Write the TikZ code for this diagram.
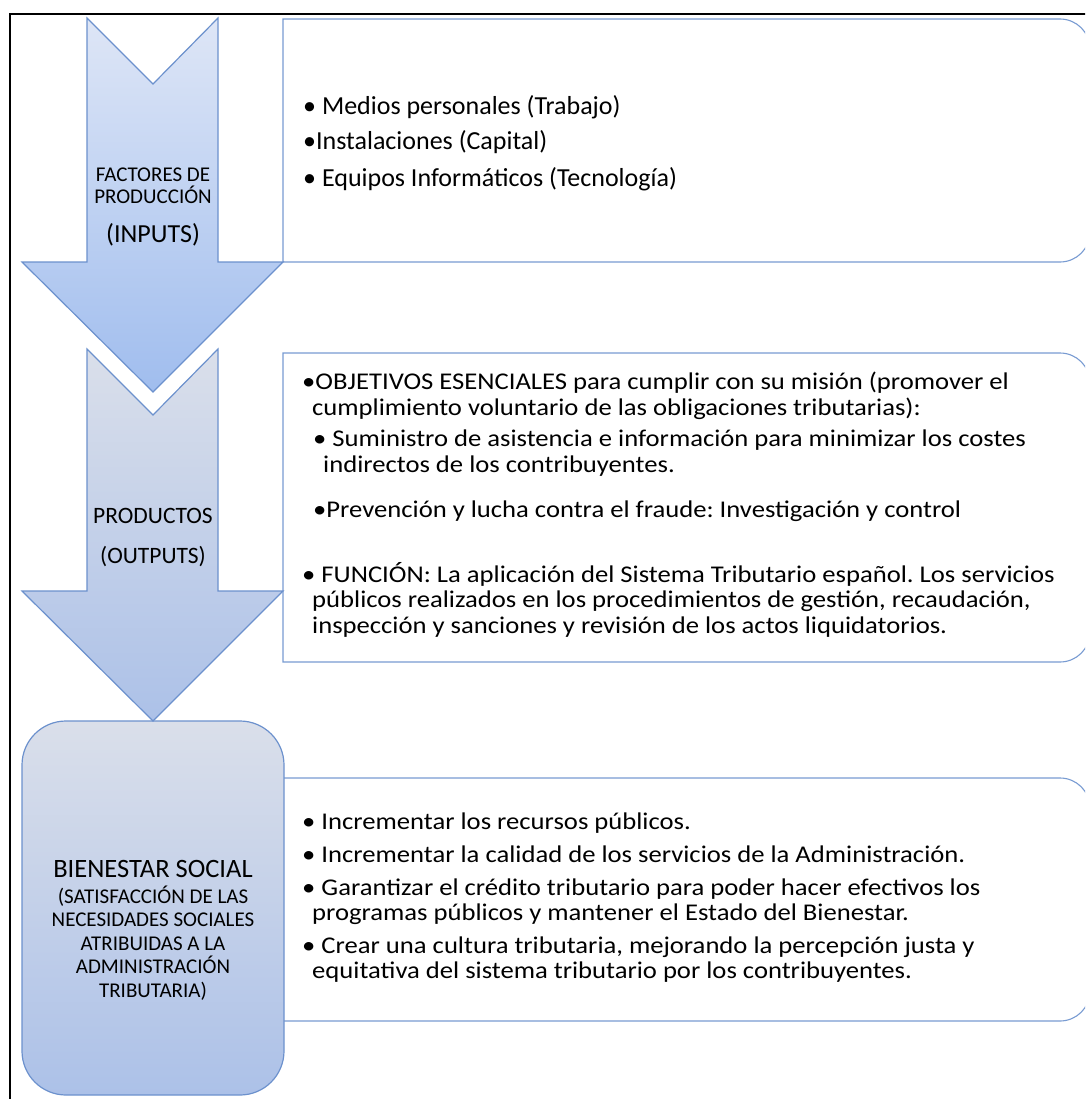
\documentclass[tikz,border=0pt]{standalone}
\usepackage{fontspec}
\setmainfont{Carlito}
\newfontfamily\widefont[FakeStretch=1.11]{Carlito}
\frenchspacing

\definecolor{edgeblue}{RGB}{108,145,205}
\definecolor{boxblue}{RGB}{120,155,210}
\definecolor{arrowtop}{RGB}{222,230,246}
\definecolor{arrowbot}{RGB}{160,189,238}
\definecolor{greytop}{RGB}{218,223,234}
\definecolor{greybot}{RGB}{172,193,232}

\tikzset{
  arrowshape/.style={draw=edgeblue,line width=1.2pt,line join=miter},
  listbox/.style={draw=boxblue,line width=1.1pt,fill=white},
  itembig/.style={anchor=base west,align=left,inner sep=0pt,font=\fontsize{26}{32}\selectfont},
  item/.style={anchor=base west,align=left,inner sep=0pt,font=\widefont\fontsize{24}{25.5}\selectfont},
  label/.style={anchor=base,align=center,inner sep=0pt}
}

\begin{document}
\begin{tikzpicture}[x=1pt,y=-1pt]
\useasboundingbox (0,0) rectangle (1085,1099);
\clip (0,0) rectangle (1085,1099);
\draw[line width=2pt] (10,14) rectangle (1120,1130);
% boxes on the right
\draw[listbox] (283,19) -- (1060,19) arc[start angle=90,end angle=0,radius=30pt]
  -- (1090,232) arc[start angle=0,end angle=-90,radius=30pt] -- (283,262) -- cycle;
\draw[listbox] (283,353) -- (1060,353) arc[start angle=90,end angle=0,radius=30pt]
  -- (1090,632) arc[start angle=0,end angle=-90,radius=30pt] -- (283,662) -- cycle;
\draw[listbox] (283,778) -- (1060,778) arc[start angle=90,end angle=0,radius=30pt]
  -- (1090,991) arc[start angle=0,end angle=-90,radius=30pt] -- (283,1021) -- cycle;
% left column
\draw[arrowshape,rounded corners=44pt,top color=greytop,bottom color=greybot]
  (22,721) rectangle (284,1095);
\draw[arrowshape,top color=greytop,bottom color=greybot]
  (87,349) -- (153,415) -- (218,349) -- (218,591) -- (283,591) -- (153,721)
  -- (22,591) -- (87,591) -- cycle;
\draw[arrowshape,top color=arrowtop,bottom color=arrowbot]
  (87,18) -- (153,84) -- (218,18) -- (218,262) -- (283,262) -- (153,392)
  -- (22,262) -- (87,262) -- cycle;

% base of a node with several lines = its last line
\node[label,font=\fontsize{21}{22}\selectfont] (factores) at (153,204) {FACTORES DE\\PRODUCCIÓN};
\node[label,font=\fontsize{26}{30}\selectfont] (inputs) at (153,242) {(INPUTS)};
\node[label,font=\fontsize{23.5}{28}\selectfont] (productos) at (153,523) {PRODUCTOS};
\node[label,font=\fontsize{23.5}{28}\selectfont] (outputs) at (153,563) {(OUTPUTS)};
\node[label,font=\fontsize{26.5}{30}\selectfont] (bienestar) at (153,877) {BIENESTAR SOCIAL};
\node[label,font=\fontsize{21}{23.5}\selectfont] (necesidades) at (153,997)
  {(SATISFACCIÓN DE LAS\\NECESIDADES SOCIALES\\ATRIBUIDAS A LA\\ADMINISTRACIÓN\\TRIBUTARIA)};

% inputs
\node[itembig] (medios) at (303,115) {• Medios personales (Trabajo)};
\node[itembig] (instalaciones) at (303,150) {•Instalaciones (Capital)};
\node[itembig] (equipos) at (303,187) {• Equipos Informáticos (Tecnología)};
% outputs
\node[item] (objetivos) at (302,415) {•OBJETIVOS ESENCIALES para cumplir con su misión (promover el\\
  \hspace*{10pt}cumplimiento voluntario de las obligaciones tributarias):};
\node[item] (suministro) at (313,472) {• Suministro de asistencia e información para minimizar los costes\\
  \hspace*{10pt}indirectos de los contribuyentes.};
\node[item] (prevencion) at (313,517) {•Prevención y lucha contra el fraude: Investigación y control};
\node[item] (funcion) at (302,633) {• FUNCIÓN: La aplicación del Sistema Tributario español. Los servicios\\
  \hspace*{10pt}públicos realizados en los procedimientos de gestión, recaudación,\\
  \hspace*{10pt}inspección y sanciones y revisión de los actos liquidatorios.};
% bienestar
\node[item] (recursos) at (302,829) {• Incrementar los recursos públicos.};
\node[item] (calidad) at (302,862) {• Incrementar la calidad de los servicios de la Administración.};
\node[item] (credito) at (302,920.5) {• Garantizar el crédito tributario para poder hacer efectivos los\\
  \hspace*{10pt}programas públicos y mantener el Estado del Bienestar.};
\node[item] (cultura) at (302,978.5) {• Crear una cultura tributaria, mejorando la percepción justa y\\
  \hspace*{10pt}equitativa del sistema tributario por los contribuyentes.};
\end{tikzpicture}
\end{document}
